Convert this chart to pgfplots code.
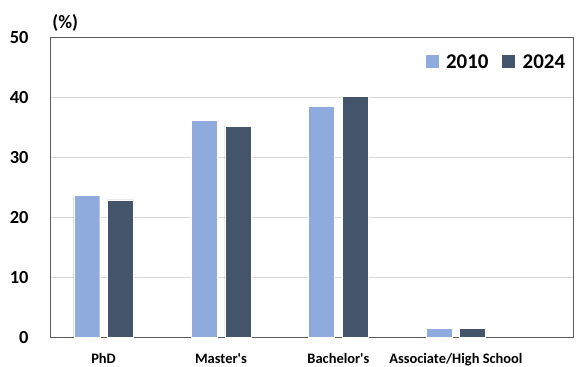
\documentclass[border=0pt]{standalone}
\usepackage{fontspec}
\setmainfont{Carlito}
\usepackage{pgfplots}
\pgfplotsset{compat=1.18}

\definecolor{lightbar}{HTML}{8FAADC}
\definecolor{darkbar}{HTML}{44546A}
\definecolor{framegray}{HTML}{595959}
\definecolor{gridgray}{HTML}{D9D9D9}

\begin{document}
\begin{tikzpicture}
\useasboundingbox (0,0) rectangle (583bp,367bp);
\begin{axis}[
  at={(50.7bp,29.7bp)}, anchor=south west,
  scale only axis,
  width=522.6bp, height=300bp,
  xmin=-0.45, xmax=4.0,
  ymin=0, ymax=50,
  ytick={0,10,20,30,40,50},
  xtick={0,1,2,3},
  xticklabels={PhD, Master\textquotesingle s, Bachelor\textquotesingle s, Associate/High School},
  major tick length=0pt,
  axis line style={framegray, line width=0.9bp},
  ymajorgrids,
  grid style={gridgray, line width=0.8bp},
  /pgf/number format/assume math mode=true,
  yticklabel style={font=\fontsize{18.5}{20}\selectfont\bfseries, inner sep=0pt, anchor=east, xshift=-22bp},
  xticklabel style={font=\fontsize{14.5}{16}\selectfont\bfseries, inner sep=0pt, anchor=north, yshift=-16bp},
  clip=false,
  legend columns=2,
  legend style={draw=none, fill=none, at={(rel axis cs:0.9885,0.918)}, anchor=east,
    font=\fontsize{21}{23}\selectfont\bfseries, inner sep=0pt,
    /tikz/every even column/.append style={column sep=12bp}},
  legend cell align=left,
  legend image code/.code={%
    \fill[#1, draw=none] (0bp,-6.3bp) rectangle (12.7bp,6.4bp);
    \path[draw=none, fill=none] (0bp,0bp) -- (18.2bp,0bp);},
]
\addplot[ybar, bar width=26bp, bar shift=-16.8bp, fill=lightbar, draw=white, line width=0.4bp]
  coordinates {(0,23.7) (1,36.2) (2,38.5) (3,1.5)};
\addlegendentry{2010}
\addplot[ybar, bar width=26bp, bar shift=16.8bp, fill=darkbar, draw=white, line width=0.4bp]
  coordinates {(0,22.9) (1,35.2) (2,40.2) (3,1.5)};
\addlegendentry{2024}
\node[font=\fontsize{19}{21}\selectfont\bfseries, inner sep=0pt] at (rel axis cs:0.0277,1.049) {(\%)};
\end{axis}
\end{tikzpicture}
\end{document}
